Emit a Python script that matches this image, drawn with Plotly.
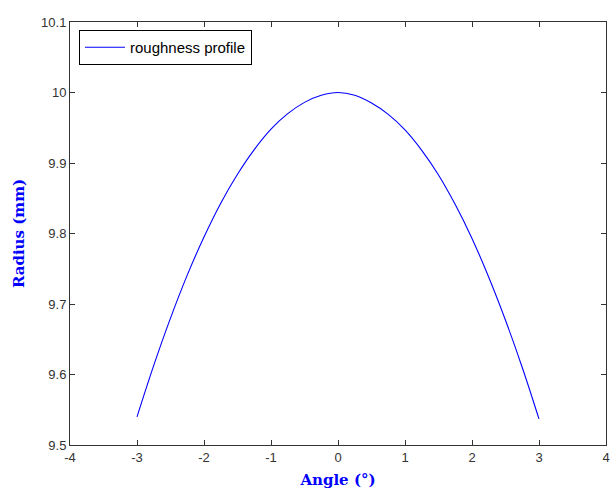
import plotly.graph_objects as go

angle_deg = [-3.00, -2.75, -2.50, -2.25, -2.00, -1.75, -1.50, -1.25, -1.00, -0.75,
             -0.50, -0.25, 0.00, 0.25, 0.50, 0.75, 1.00, 1.25, 1.50, 1.75,
             2.00, 2.25, 2.50, 2.75, 3.00]
radius_mm = [9.540, 9.613, 9.680, 9.741, 9.795, 9.843, 9.884, 9.919, 9.948, 9.970,
             9.986, 9.996, 10.000, 9.996, 9.985, 9.969, 9.947, 9.918, 9.883, 9.841,
             9.793, 9.738, 9.677, 9.610, 9.537]

x_ticks = [-4, -3, -2, -1, 0, 1, 2, 3, 4]
y_ticks = [9.5, 9.6, 9.7, 9.8, 9.9, 10.0, 10.1]
y_tick_text = ["9.5", "9.6", "9.7", "9.8", "9.9", "10", "10.1"]

fig = go.Figure()
fig.add_trace(go.Scatter(x=angle_deg, y=radius_mm, mode="lines",
                         name="roughness profile",
                         line=dict(color="#0000ff", width=1.1, shape="spline", smoothing=1.0)))

axis_common = dict(showgrid=False, zeroline=False, showline=True, mirror="ticks",
                   linecolor="#333333", linewidth=1, ticks="inside", ticklen=5,
                   tickcolor="#333333",
                   tickfont=dict(family="Liberation Sans, Arial", size=13, color="#333333"))

fig.update_layout(
    width=614, height=490,
    margin=dict(l=70, r=4, t=22, b=45),
    paper_bgcolor="white", plot_bgcolor="white",
    xaxis=dict(range=[-4, 4], tickvals=x_ticks, ticktext=[str(v) for v in x_ticks],
               title=dict(text="Angle (°)", standoff=10,
                          font=dict(family="DejaVu Serif", size=15, color="#0000ff", weight="bold")),
               **axis_common),
    yaxis=dict(range=[9.5, 10.1], tickvals=y_ticks, ticktext=y_tick_text,
               title=dict(text="Radius (mm)", standoff=12,
                          font=dict(family="DejaVu Serif", size=15, color="#0000ff", weight="bold")),
               **axis_common),
    showlegend=True,
    legend=dict(x=0.0167, y=0.981, xanchor="left", yanchor="top",
                bordercolor="black", borderwidth=1, bgcolor="white",
                font=dict(family="Liberation Sans, Arial", size=15, color="black"),
                itemwidth=40, tracegroupgap=0),
)

fig.write_html("out.html")
